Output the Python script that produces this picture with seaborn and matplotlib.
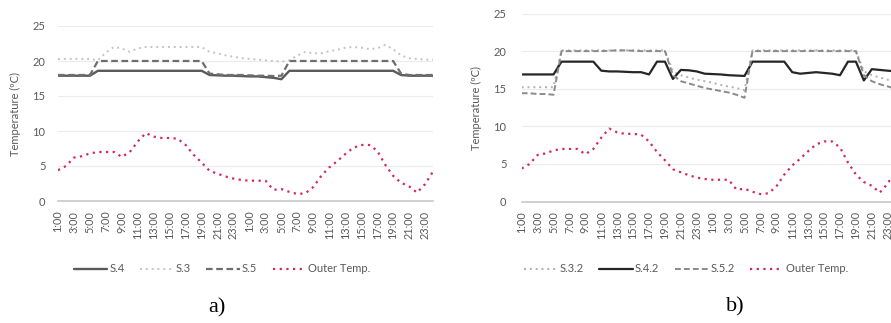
import numpy as np
import pandas as pd
import matplotlib
matplotlib.use('Agg')
import matplotlib.pyplot as plt
import seaborn as sns

# hourly categories, two days (1:00 .. 24:00, twice)
hours = [f'{h}:00' for h in range(1, 25)] * 2
tick_labels = [hours[i] for i in range(0, 48, 2)]

outer_temp = [4.4, 5.0, 6.2, 6.4, 6.8, 7.0, 7.0, 7.0, 6.3, 7.0, 8.5, 9.7,
              9.2, 9.0, 9.0, 8.9, 8.0, 6.6, 5.5, 4.3, 3.9, 3.5, 3.2, 3.0,
              2.9, 2.9, 2.9, 1.6, 1.7, 1.3, 1.0, 1.1, 2.0, 3.6, 4.8, 5.7,
              6.7, 7.6, 8.0, 8.0, 7.2, 5.2, 3.6, 2.6, 2.1, 1.2, 2.4, 4.2]

# panel a)
s4 = [17.9, 17.9, 17.9, 17.9, 17.9, 18.6, 18.6, 18.6, 18.6, 18.6, 18.6, 18.6,
      18.6, 18.6, 18.6, 18.6, 18.6, 18.6, 18.6, 18.0, 17.95, 17.9, 17.9, 17.85,
      17.8, 17.8, 17.7, 17.6, 17.4, 18.6, 18.6, 18.6, 18.6, 18.6, 18.6, 18.6,
      18.6, 18.6, 18.6, 18.6, 18.6, 18.6, 18.6, 18.0, 17.9, 17.9, 17.9, 17.9]
s3 = [20.3, 20.3, 20.3, 20.3, 20.3, 20.1, 21.2, 22.0, 21.8, 21.3, 21.8, 22.0,
      22.0, 22.0, 22.0, 22.0, 22.0, 22.0, 22.0, 21.3, 21.1, 20.8, 20.6, 20.4,
      20.3, 20.2, 20.1, 20.0, 19.9, 20.1, 20.8, 21.3, 21.1, 21.1, 21.4, 21.6,
      21.9, 22.0, 21.9, 21.7, 21.8, 22.3, 21.7, 20.8, 20.4, 20.3, 20.2, 20.2]
s5 = [18.0, 18.0, 18.0, 18.0, 18.0, 20.0, 20.0, 20.0, 20.0, 20.0, 20.0, 20.0,
      20.0, 20.0, 20.0, 20.0, 20.0, 20.0, 20.0, 18.2, 18.1, 18.0, 18.0, 18.0,
      17.95, 17.9, 17.9, 17.85, 17.9, 20.0, 20.0, 20.0, 20.0, 20.0, 20.0, 20.0,
      20.0, 20.0, 20.0, 20.0, 20.0, 20.0, 20.0, 18.2, 18.0, 18.0, 18.0, 18.0]

# panel b)
s32 = [15.2, 15.2, 15.2, 15.2, 15.2, 20.1, 20.1, 20.1, 20.1, 20.1, 20.1, 20.1,
       20.1, 20.1, 20.1, 20.1, 20.1, 20.1, 20.1, 17.3, 16.8, 16.5, 16.2, 16.0,
       15.8, 15.5, 15.3, 15.1, 14.8, 20.1, 20.1, 20.1, 20.1, 20.1, 20.1, 20.1,
       20.1, 20.1, 20.1, 20.1, 20.1, 20.1, 20.1, 17.3, 16.8, 16.5, 16.2, 16.0]
s42 = [16.9, 16.9, 16.9, 16.9, 16.9, 18.6, 18.6, 18.6, 18.6, 18.6, 17.4, 17.3,
       17.3, 17.25, 17.2, 17.2, 16.9, 18.6, 18.6, 16.3, 17.5, 17.45, 17.3, 17.0,
       16.95, 16.9, 16.8, 16.75, 16.7, 18.6, 18.6, 18.6, 18.6, 18.6, 17.2, 17.0,
       17.1, 17.2, 17.1, 17.0, 16.8, 18.6, 18.6, 16.1, 17.6, 17.5, 17.4, 17.3]
s52 = [14.4, 14.4, 14.3, 14.3, 14.2, 20.0, 20.0, 20.0, 20.0, 20.0, 20.0, 20.05,
       20.1, 20.1, 20.05, 20.0, 20.0, 20.0, 20.0, 16.8, 16.0, 15.7, 15.4, 15.1,
       14.9, 14.7, 14.5, 14.2, 13.8, 20.0, 20.0, 20.0, 20.0, 20.0, 20.0, 20.0,
       20.0, 20.05, 20.0, 20.0, 20.0, 20.0, 20.0, 16.8, 16.0, 15.6, 15.3, 15.0]

x = np.arange(48)
red = '#d6275a'

sns.set_style('white')
plt.rcParams['font.family'] = ['Lato', 'DejaVu Sans']
txt = '#595959'

fig = plt.figure(figsize=(8.91, 3.23), dpi=100)
ax = fig.add_axes([58 / 891, 1 - 201 / 323, 375 / 891, 175 / 323])
ax2 = fig.add_axes([521.7 / 891, 1 - 201.6 / 323, 374 / 891, 188.1 / 323])

dot = (0, (1, 2.0))
series_a = [('S.4', s4, dict(color='#5a5a5a', lw=1.7, ls='-')),
            ('S.3', s3, dict(color='#c4c4c4', lw=1.4, ls=dot)),
            ('S.5', s5, dict(color='#6e6e6e', lw=1.6, ls=(0, (3, 1.6)))),
            ('Outer Temp.', outer_temp, dict(color=red, lw=1.6, ls=dot))]
series_b = [('S.3.2', s32, dict(color='#b0b0b0', lw=1.4, ls=dot)),
            ('S.4.2', s42, dict(color='#262626', lw=1.6, ls='-')),
            ('S.5.2', s52, dict(color='#8a8a8a', lw=1.4, ls=(0, (3, 1.6)))),
            ('Outer Temp.', outer_temp, dict(color=red, lw=1.6, ls=dot))]

for a, series, pad in [(ax, series_a, 9), (ax2, series_b, 11)]:
    for name, vals, st in series:
        sns.lineplot(x=x, y=vals, ax=a, label=name, color=st['color'],
                     linewidth=st['lw'], linestyle=st['ls'])
    a.set_xlim(0, 47)
    a.set_ylim(0, 25)
    a.set_yticks([0, 5, 10, 15, 20, 25])
    a.set_xticks(range(0, 48, 2))
    a.set_xticklabels(tick_labels, rotation=90, fontsize=7.8, color=txt)
    a.tick_params(axis='y', length=0, pad=pad, labelsize=8, labelcolor=txt)
    a.tick_params(axis='x', length=0, pad=7)
    a.grid(axis='y', color='#ececec', lw=0.8)
    for sp in ['top', 'right', 'left']:
        a.spines[sp].set_visible(False)
    a.spines['bottom'].set_color('#c8c8c8')
    a.spines['bottom'].set_linewidth(1.2)
    a.set_ylabel('Temperature (ºC)', fontsize=8, color=txt, labelpad=8)
    a.set_xlabel('')
    a.get_legend().remove()

h, l = ax.get_legend_handles_labels()
fig.legend(h, l, loc='center', bbox_to_anchor=(222 / 891, 1 - 269 / 323), ncol=4,
           frameon=False, fontsize=8, labelcolor=txt, handlelength=3,
           handletextpad=0.2, columnspacing=1.4)
h, l = ax2.get_legend_handles_labels()
fig.legend(h, l, loc='center', bbox_to_anchor=(686 / 891, 1 - 269 / 323), ncol=4,
           frameon=False, fontsize=8, labelcolor=txt, handlelength=3,
           handletextpad=0.2, columnspacing=1.4)

fig.text(217 / 891, 1 - 308 / 323, 'a)', ha='center', va='center', fontsize=16,
         family='Liberation Serif', color='black')
fig.text(735 / 891, 1 - 307 / 323, 'b)', ha='center', va='center', fontsize=16,
         family='Liberation Serif', color='black')

plt.savefig('out.png', dpi=100)
